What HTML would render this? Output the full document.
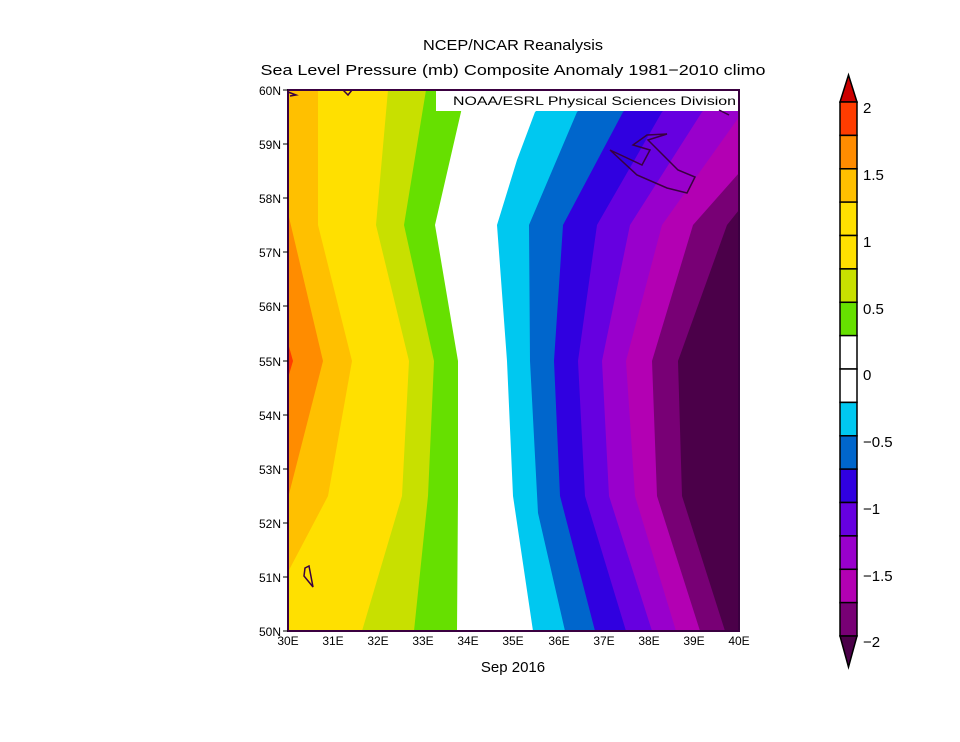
<!DOCTYPE html>
<html><head><meta charset="utf-8"><style>
html,body{margin:0;padding:0;background:#fff;}
svg{display:block;}
text{font-family:"Liberation Sans",sans-serif;fill:#000;}
</style></head><body>
<svg width="960" height="742" viewBox="0 0 960 742" xmlns="http://www.w3.org/2000/svg">
<rect width="960" height="742" fill="#fff"/>
<text x="513" y="50" font-size="15" text-anchor="middle" textLength="180" lengthAdjust="spacingAndGlyphs">NCEP/NCAR Reanalysis</text>
<text x="513" y="75" font-size="15" text-anchor="middle" textLength="505" lengthAdjust="spacingAndGlyphs">Sea Level Pressure (mb) Composite Anomaly 1981−2010 climo</text>
<g>
<rect x="288" y="90" width="451" height="541" fill="#4b0049"/>
<polygon fill="#780075" points="288,90 739,90 739,210 727,225 678,361 682,496 725,631 288,631"/>
<polygon fill="#b300b3" points="288,90 739,90 739,173 693,225 652,361 657,496 700,631 288,631"/>
<polygon fill="#9900cc" points="288,90 739,90 739,117 662,225 626,361 635,496 676,631 288,631"/>
<polygon fill="#6600e0" points="288,90 725,90 702,112 630,225 602,361 609,496 652,631 288,631"/>
<polygon fill="#3000e0" points="288,90 685,90 662,112 597,225 578,361 585,496 626,631 288,631"/>
<polygon fill="#0066cc" points="288,90 645,90 623,112 563,225 554,361 560,496 595,631 288,631"/>
<polygon fill="#00c8f0" points="288,90 600,90 577,112 529,225 530,361 538,513 565,631 288,631"/>
<polygon fill="#ffffff" points="288,90 560,90 535,112 517,160 497,225 507,361 513,496 533,631 288,631"/>
<polygon fill="#66e000" points="288,90 465,90 461,112 435,225 458,361 458,496 457,631 288,631"/>
<polygon fill="#c8e000" points="288,90 426,90 404,225 434,361 428,496 414,631 288,631"/>
<polygon fill="#ffe000" points="288,90 388,90 376,225 409,361 402,496 362,631 288,631"/>
<polygon fill="#ffc000" points="288,90 318,90 318,225 352,361 328,496 288,572"/>
<polygon fill="#ff8c00" points="288,213 323,361 288,498"/>
<polygon fill="#ff3c00" points="288,343 293,361 288,378"/>
<rect x="436" y="90" width="302" height="21" fill="#fff"/>
<text x="736" y="105" font-size="12" text-anchor="end" textLength="283" lengthAdjust="spacingAndGlyphs">NOAA/ESRL Physical Sciences Division</text>
<g fill="none" stroke="#3a0040" stroke-width="1.5">
<polyline points="610,150 642,165 650,150 633,145 647,135 667,134 648,140 678,170 695,177 687,193 667,188 637,175 610,150"/>
<polyline points="719,110 729,115"/>
<polygon points="305,568 309,566 313,587 304,576"/>
<polyline points="288,92 296,95 290,96"/>
<polyline points="343,90 348,95 352,90"/>
</g>
<rect x="288" y="90" width="451" height="541" fill="none" stroke="#3a0040" stroke-width="2"/>
</g>
<g stroke="#000" stroke-width="1">
<line x1="283" y1="90" x2="288" y2="90"/><line x1="283" y1="144" x2="288" y2="144"/><line x1="283" y1="198" x2="288" y2="198"/><line x1="283" y1="252" x2="288" y2="252"/><line x1="283" y1="306" x2="288" y2="306"/><line x1="283" y1="361" x2="288" y2="361"/><line x1="283" y1="415" x2="288" y2="415"/><line x1="283" y1="469" x2="288" y2="469"/><line x1="283" y1="523" x2="288" y2="523"/><line x1="283" y1="577" x2="288" y2="577"/><line x1="283" y1="631" x2="288" y2="631"/>
</g>
<g font-size="12" text-anchor="end">
<text x="281" y="95">60N</text><text x="281" y="149">59N</text><text x="281" y="203">58N</text><text x="281" y="257">57N</text><text x="281" y="311">56N</text><text x="281" y="366">55N</text><text x="281" y="420">54N</text><text x="281" y="474">53N</text><text x="281" y="528">52N</text><text x="281" y="582">51N</text><text x="281" y="636">50N</text>
</g>
<g font-size="12" text-anchor="middle">
<text x="288" y="645">30E</text><text x="333" y="645">31E</text><text x="378" y="645">32E</text><text x="423" y="645">33E</text><text x="468" y="645">34E</text><text x="513" y="645">35E</text><text x="559" y="645">36E</text><text x="604" y="645">37E</text><text x="649" y="645">38E</text><text x="694" y="645">39E</text><text x="739" y="645">40E</text>
</g>
<text x="513" y="672" font-size="15" text-anchor="middle">Sep 2016</text>
<g stroke="#000" stroke-width="1.5">
<polygon points="840,102 848.5,75 857,102" fill="#cc0000"/>
<rect x="840" y="102" width="17" height="33.4" fill="#ff3c00"/>
<rect x="840" y="135.4" width="17" height="33.4" fill="#ff8c00"/>
<rect x="840" y="168.8" width="17" height="33.4" fill="#ffc000"/>
<rect x="840" y="202.1" width="17" height="33.4" fill="#ffe000"/>
<rect x="840" y="235.5" width="17" height="33.4" fill="#ffe000"/>
<rect x="840" y="268.9" width="17" height="33.4" fill="#c8e000"/>
<rect x="840" y="302.3" width="17" height="33.4" fill="#66e000"/>
<rect x="840" y="335.6" width="17" height="33.4" fill="#ffffff"/>
<rect x="840" y="369" width="17" height="33.4" fill="#ffffff"/>
<rect x="840" y="402.4" width="17" height="33.4" fill="#00c8f0"/>
<rect x="840" y="435.8" width="17" height="33.4" fill="#0066cc"/>
<rect x="840" y="469.1" width="17" height="33.4" fill="#3000e0"/>
<rect x="840" y="502.5" width="17" height="33.4" fill="#6600e0"/>
<rect x="840" y="535.9" width="17" height="33.4" fill="#9900cc"/>
<rect x="840" y="569.3" width="17" height="33.4" fill="#b300b3"/>
<rect x="840" y="602.6" width="17" height="33.4" fill="#780075"/>
<polygon points="840,636 848.5,667 857,636" fill="#4b0049"/>
</g>
<g font-size="15">
<text x="863" y="113">2</text><text x="863" y="180">1.5</text><text x="863" y="247">1</text><text x="863" y="314">0.5</text><text x="863" y="380">0</text><text x="863" y="447">−0.5</text><text x="863" y="514">−1</text><text x="863" y="581">−1.5</text><text x="863" y="647">−2</text>
</g>
</svg>
</body></html>
